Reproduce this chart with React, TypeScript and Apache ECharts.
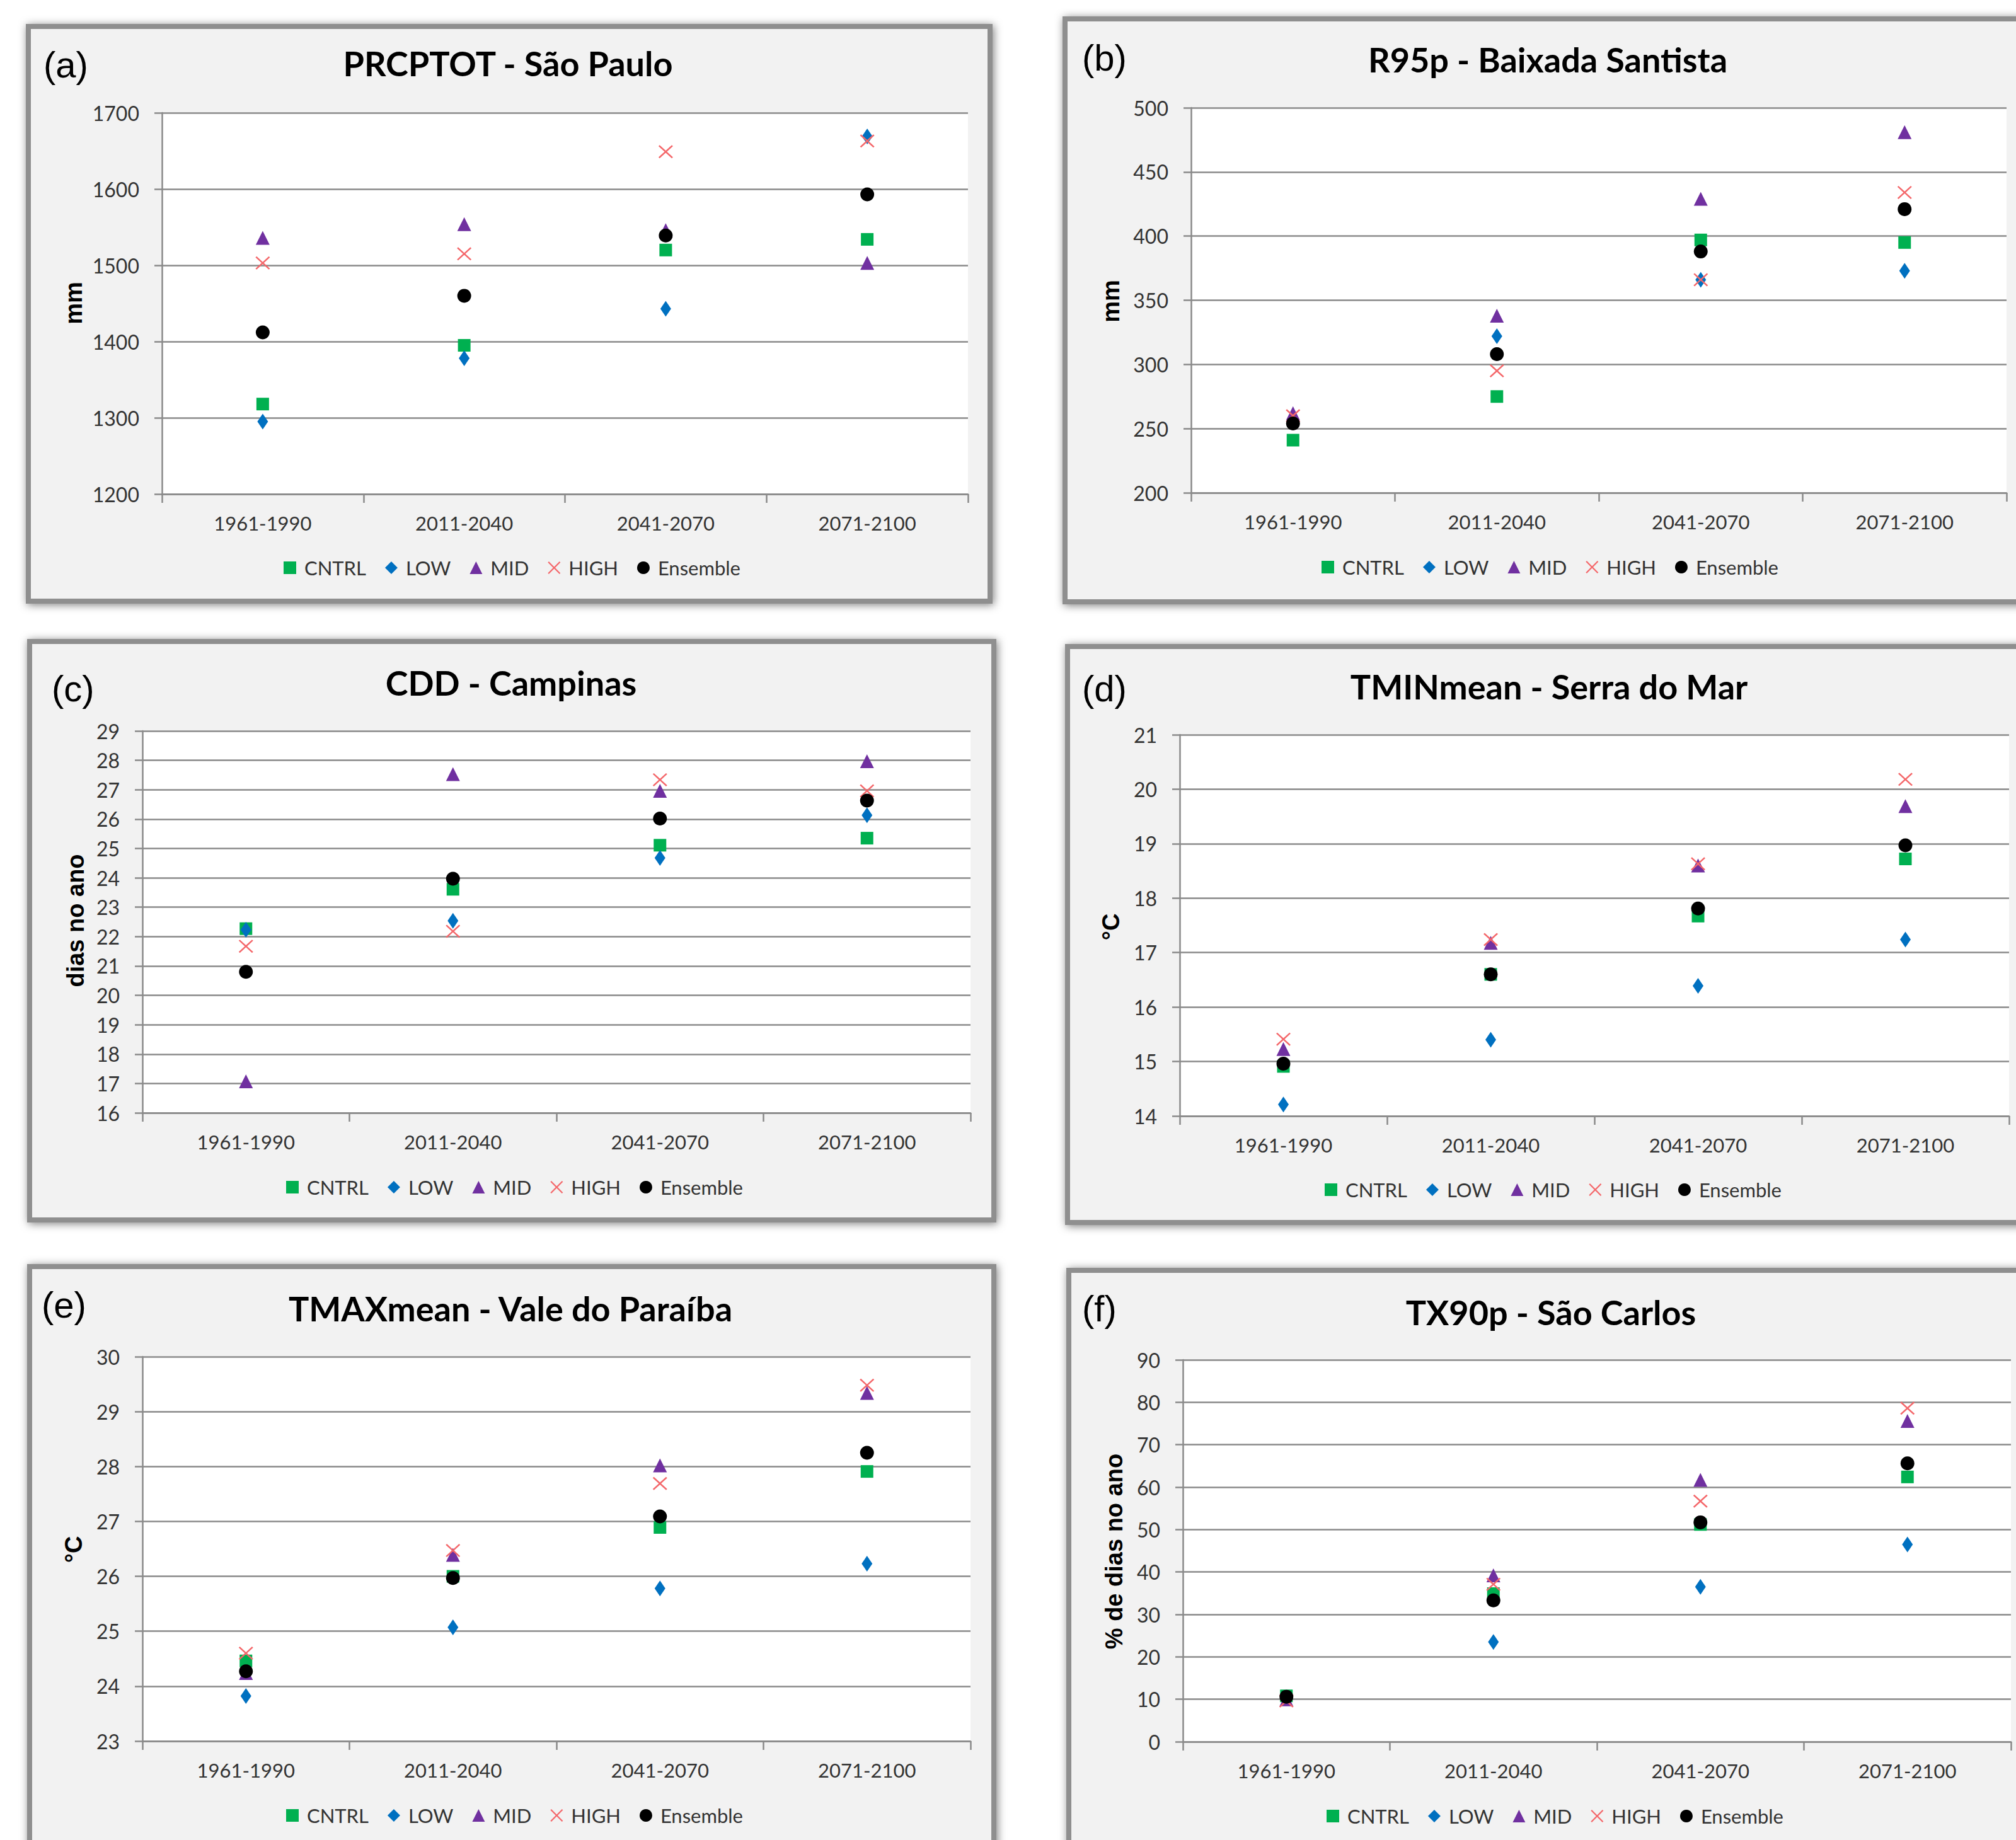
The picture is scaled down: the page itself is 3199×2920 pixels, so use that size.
import React, { useEffect, useRef } from "react";
import * as echarts from "echarts";

// ---------- DATA ----------
const categories = ["1961-1990", "2011-2040", "2041-2070", "2071-2100"];
const seriesNames = ["CNTRL", "LOW", "MID", "HIGH", "Ensemble"];

// (a) PRCPTOT - São Paulo (mm)
const aCNTRL = [1318, 1395, 1520, 1534];
const aLOW = [1295, 1378, 1443, 1669];
const aMID = [1536, 1554, 1546, 1503];
const aHIGH = [1503, 1515, 1649, 1663];
const aEns = [1412, 1460, 1539, 1593];

// (b) R95p - Baixada Santista (mm)
const bCNTRL = [241, 275, 397, 395];
const bLOW = [255, 322, 366, 373];
const bMID = [262, 338, 429, 481];
const bHIGH = [260, 295, 366, 434];
const bEns = [254, 308, 388, 421];

// (c) CDD - Campinas (dias no ano)
const cCNTRL = [22.27, 23.61, 25.11, 25.35];
const cLOW = [22.23, 22.54, 24.68, 26.13];
const cMID = [17.07, 27.53, 26.96, 27.97];
const cHIGH = [21.67, 22.18, 27.34, 26.96];
const cEns = [20.8, 23.97, 26.02, 26.63];

// (d) TMINmean - Serra do Mar (°C)
const dCNTRL = [14.91, 16.6, 17.67, 18.72];
const dLOW = [14.21, 15.4, 16.39, 17.24];
const dMID = [15.23, 17.18, 18.6, 19.69];
const dHIGH = [15.41, 17.24, 18.63, 20.18];
const dEns = [14.96, 16.6, 17.81, 18.97];

// (e) TMAXmean - Vale do Paraíba (°C)
const eCNTRL = [24.46, 26.0, 26.89, 27.91];
const eLOW = [23.82, 25.07, 25.78, 26.23];
const eMID = [24.24, 26.39, 28.02, 29.34];
const eHIGH = [24.6, 26.47, 27.69, 29.48];
const eEns = [24.27, 25.97, 27.09, 28.25];

// (f) TX90p - São Carlos (% de dias no ano)
const fCNTRL = [10.8, 34.9, 51.2, 62.4];
const fLOW = [10.4, 23.5, 36.5, 46.5];
const fMID = [10.0, 39.2, 61.7, 75.6];
const fHIGH = [9.6, 37.1, 56.7, 78.6];
const fEns = [10.6, 33.3, 51.7, 65.6];

// axis ranges [min, max, interval]
const aRange = [1200, 1700, 100];
const bRange = [200, 500, 50];
const cRange = [16, 29, 1];
const dRange = [14, 21, 1];
const eRange = [23, 30, 1];
const fRange = [0, 90, 10];

const titles = [
  "PRCPTOT - São Paulo",
  "R95p - Baixada Santista",
  "CDD - Campinas",
  "TMINmean - Serra do Mar",
  "TMAXmean - Vale do Paraíba",
  "TX90p - São Carlos",
];
const tags = ["(a)", "(b)", "(c)", "(d)", "(e)", "(f)"];
const yNames = ["mm", "mm", "dias no ano", "°C", "°C", "% de dias no ano"];

const panelData = [
  [aCNTRL, aLOW, aMID, aHIGH, aEns],
  [bCNTRL, bLOW, bMID, bHIGH, bEns],
  [cCNTRL, cLOW, cMID, cHIGH, cEns],
  [dCNTRL, dLOW, dMID, dHIGH, dEns],
  [eCNTRL, eLOW, eMID, eHIGH, eEns],
  [fCNTRL, fLOW, fMID, fHIGH, fEns],
];
const panelRanges = [aRange, bRange, cRange, dRange, eRange, fRange];

// ---------- LAYOUT / STYLE ----------
const layouts = [
  { grid: { left: 257, top: 179, width: 1279, height: 605 }, box: { x: 45, y: 42, w: 1526, h: 912 }, title: { x: 806, y: 100 }, tag: { x: 69, y: 102 }, yname: { x: 117, y: 481 }, legend: { left: 445, cy: 903 } },
  { grid: { left: 1890, top: 171, width: 1294, height: 611 }, box: { x: 1690, y: 30, w: 1560, h: 925 }, title: { x: 2456, y: 94 }, tag: { x: 1717, y: 91 }, yname: { x: 1763, y: 478 }, legend: { left: 2092, cy: 902 } },
  { grid: { left: 226, top: 1160, width: 1314, height: 606 }, box: { x: 47, y: 1018, w: 1530, h: 918 }, title: { x: 811, y: 1083 }, tag: { x: 82, y: 1092 }, yname: { x: 120, y: 1461 }, legend: { left: 449, cy: 1886 } },
  { grid: { left: 1872, top: 1166, width: 1316, height: 605 }, box: { x: 1694, y: 1026, w: 1560, h: 914 }, title: { x: 2458, y: 1089 }, tag: { x: 1717, y: 1092 }, yname: { x: 1763, y: 1471 }, legend: { left: 2097, cy: 1890 } },
  { grid: { left: 226, top: 2153, width: 1314, height: 610 }, box: { x: 47, y: 2010, w: 1530, h: 960 }, title: { x: 810, y: 2076 }, tag: { x: 66, y: 2070 }, yname: { x: 117, y: 2459 }, legend: { left: 449, cy: 2883 } },
  { grid: { left: 1877, top: 2158, width: 1314, height: 606 }, box: { x: 1696, y: 2016, w: 1560, h: 960 }, title: { x: 2461, y: 2082 }, tag: { x: 1717, y: 2076 }, yname: { x: 1768, y: 2462 }, legend: { left: 2100, cy: 2884 } },
];

const xPath =
  "path://M0,0.8L0.8,0L5,4.2L9.2,0L10,0.8L5.8,5L10,9.2L9.2,10L5,5.8L0.8,10L0,9.2L4.2,5Z";

const seriesStyle: Record<string, any> = {
  CNTRL: { symbol: "rect", symbolSize: [20, 20], color: "#00b050" },
  LOW: { symbol: "diamond", symbolSize: [17, 25], color: "#0070c0" },
  MID: { symbol: "triangle", symbolSize: [22, 22], color: "#7030a0" },
  HIGH: { symbol: xPath, symbolSize: [23, 21], color: "#f4676a" },
  Ensemble: { symbol: "circle", symbolSize: 22, color: "#000000" },
};

const FONT = "Lato, 'Open Sans', sans-serif";
const GRIDLINE = "#8a8a8a";

function buildOption() {
  const grid: any[] = [];
  const xAxis: any[] = [];
  const yAxis: any[] = [];
  const series: any[] = [];
  const legend: any[] = [];
  const graphic: any[] = [];

  layouts.forEach((L, i) => {
    const [min, max, interval] = panelRanges[i];
    grid.push({
      ...L.grid,
      show: true,
      backgroundColor: "#ffffff",
      borderWidth: 0,
      containLabel: false,
    });
    xAxis.push({
      type: "category",
      gridIndex: i,
      data: categories,
      boundaryGap: true,
      axisLine: { show: true, lineStyle: { color: GRIDLINE, width: 2.5 } },
      axisTick: { show: true, length: 14, inside: false, lineStyle: { color: GRIDLINE, width: 2.5 } },
      axisLabel: { color: "#333", fontFamily: FONT, fontSize: 31, margin: 30 },
      splitLine: { show: false },
    });
    yAxis.push({
      type: "value",
      gridIndex: i,
      min,
      max,
      interval,
      axisLine: { show: true, lineStyle: { color: GRIDLINE, width: 2.5 } },
      axisTick: { show: true, length: 12, lineStyle: { color: GRIDLINE, width: 2.5 } },
      axisLabel: {
        color: "#333",
        fontFamily: FONT,
        fontSize: 32,
        margin: 36,
        formatter: (v: number) => String(v),
      },
      splitLine: { show: true, lineStyle: { color: GRIDLINE, width: 2.5 } },
    });
    seriesNames.forEach((name, k) => {
      const st = seriesStyle[name];
      series.push({
        type: "scatter",
        name,
        xAxisIndex: i,
        yAxisIndex: i,
        data: panelData[i][k],
        symbol: st.symbol,
        symbolSize: st.symbolSize,
        itemStyle: { color: st.color, opacity: 1 },
        z: 2 + k,
      });
    });
    legend.push({
      left: L.legend.left,
      top: L.legend.cy - 23,
      orient: "horizontal",
      itemWidth: 20,
      itemHeight: 20,
      itemGap: 30,
      data: seriesNames,
      selectedMode: false,
      formatter: (name: string) => " " + name,
      textStyle: { color: "#333", fontFamily: FONT, fontSize: 31, lineHeight: 32 },
    });
    graphic.push({
      type: "rect",
      z: -10,
      shape: { x: L.box.x, y: L.box.y, width: L.box.w, height: L.box.h },
      style: {
        fill: "#f2f2f2",
        stroke: "#8f8f8f",
        lineWidth: 8,
        shadowBlur: 14,
        shadowColor: "rgba(0,0,0,0.5)",
        shadowOffsetX: 2,
        shadowOffsetY: 2,
      },
    });
    graphic.push({
      type: "text",
      z: 100,
      x: L.title.x,
      y: L.title.y,
      style: {
        text: titles[i],
        fill: "#000",
        fontFamily: FONT,
        fontWeight: "bold",
        fontSize: 54,
        textAlign: "center",
        textVerticalAlign: "middle",
      },
    });
    graphic.push({
      type: "text",
      z: 100,
      x: L.tag.x,
      y: L.tag.y,
      style: {
        text: tags[i],
        fill: "#000",
        fontFamily: "'Liberation Sans', Arial, sans-serif",
        fontSize: 58,
        textAlign: "left",
        textVerticalAlign: "middle",
      },
    });
    graphic.push({
      type: "text",
      z: 100,
      x: L.yname.x,
      y: L.yname.y,
      rotation: Math.PI / 2,
      style: {
        text: yNames[i],
        fill: "#000",
        fontFamily: "'Liberation Sans', Arial, sans-serif",
        fontWeight: "bold",
        fontSize: 38,
        textAlign: "center",
        textVerticalAlign: "middle",
      },
    });
  });

  return {
    animation: false,
    backgroundColor: "#ffffff",
    grid,
    xAxis,
    yAxis,
    series,
    legend,
    graphic: { elements: graphic },
  };
}

export default function App() {
  const ref = useRef<HTMLDivElement>(null);
  useEffect(() => {
    if (!ref.current) return;
    const chart = echarts.init(ref.current, undefined, { renderer: "svg" });
    chart.setOption(buildOption() as any);
    return () => chart.dispose();
  }, []);
  return (
    <div
      ref={ref}
      style={{ position: "absolute", left: 0, top: 0, width: 3199, height: 2920, overflow: "hidden" }}
    />
  );
}
